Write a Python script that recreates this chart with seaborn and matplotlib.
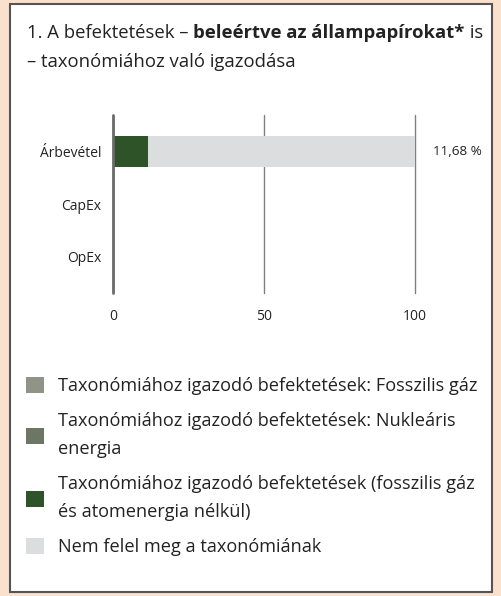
import seaborn as sns
import pandas as pd
import matplotlib.pyplot as plt
from matplotlib.patches import Rectangle, Patch

# adatok
categories = ["Árbevétel", "CapEx", "OpEx"]
fossil_gas = [0, 0, 0]
nuclear = [0, 0, 0]
aligned = [11.68, 0, 0]
not_aligned = [88.32, 0, 0]
value_labels = ["11,68 %", "", ""]
x_ticks = [0, 50, 100]

legend_labels = [
    "Taxonómiához igazodó befektetések: Fosszilis gáz",
    "Taxonómiához igazodó befektetések: Nukleáris\nenergia",
    "Taxonómiához igazodó befektetések (fosszilis gáz\nés atomenergia nélkül)",
    "Nem felel meg a taxonómiának",
]
legend_colors = ["#8f9486", "#6c7664", "#2f5328", "#dcdddf"]

df = pd.DataFrame({
    "category": categories,
    "fossil": fossil_gas,
    "nuclear": nuclear,
    "aligned": aligned,
    "not_aligned": not_aligned,
})
df["total"] = df["fossil"] + df["nuclear"] + df["aligned"] + df["not_aligned"]

sns.set_theme(style="white")
plt.rcParams["font.family"] = ["Open Sans", "DejaVu Sans"]
text_color = "#222222"

fig = plt.figure(figsize=(5.02, 5.96), dpi=100, facecolor="#fae1cd")
fig.patches.append(Rectangle((10 / 502, 4 / 596), 482 / 502, 588 / 596,
                             transform=fig.transFigure, facecolor="white",
                             edgecolor="#555555", lw=1.5, zorder=-10))

ax = fig.add_axes([113 / 502, 303 / 596, 302 / 502, 178 / 596])
ax.set_facecolor("none")

# halmozott sávok: előbb a teljes, majd a taxonómiához igazodó rész
sns.barplot(data=df, y="category", x="total", color=legend_colors[3],
            orient="h", width=0.58, saturation=1, linewidth=0, ax=ax, zorder=2)
sns.barplot(data=df, y="category", x="aligned", color=legend_colors[2],
            orient="h", width=0.58, saturation=1, linewidth=0, ax=ax, zorder=3)

ax.set_xlim(0, 100)
ax.set_ylim(2.7, -0.7)
ax.set_xticks(x_ticks)
ax.set_xlabel("")
ax.set_ylabel("")
for s in ax.spines.values():
    s.set_visible(False)
for x in x_ticks[1:]:
    ax.axvline(x, color="#808080", lw=1, zorder=1, clip_on=False)
ax.axvline(0, color="#6a6a6a", lw=2, zorder=4, clip_on=False)
ax.tick_params(axis="x", length=0, pad=11.5, labelsize=10, labelcolor=text_color)
ax.tick_params(axis="y", length=0, pad=8.5, labelsize=10, labelcolor=text_color)

for i, lab in enumerate(value_labels):
    if lab:
        ax.text(106, i, lab, va="center", ha="left", fontsize=9.7,
                color=text_color, clip_on=False)

# cím, félkövér résszel
fs_title = 13.3
t1 = fig.text(27 / 502, 1 - 38 / 596, "1. A befektetések – ", fontsize=fs_title,
              color=text_color, va="baseline")
t2 = ax.annotate("beleértve az állampapírokat*", xy=(1, 0), xycoords=t1,
                 va="bottom", fontsize=fs_title, fontweight="bold", color=text_color,
                 annotation_clip=False)
ax.annotate(" is", xy=(1, 0), xycoords=t2, va="bottom", fontsize=fs_title,
            color=text_color, annotation_clip=False)
fig.text(27 / 502, 1 - 67 / 596, "– taxonómiához való igazodása", fontsize=fs_title,
         color=text_color, va="baseline")

handles = [Patch(facecolor=c, edgecolor="none") for c in legend_colors]
leg = fig.legend(handles, legend_labels, loc="upper left",
                 bbox_to_anchor=(19 / 502, 1 - 370 / 596), frameon=False,
                 fontsize=13.1, handlelength=0.97, handleheight=0.97,
                 handletextpad=0.75, labelspacing=0.9, borderaxespad=0)
for t in leg.get_texts():
    t.set_color(text_color)
    t.set_linespacing(1.75)

fig.savefig("out.png", dpi=100, facecolor=fig.get_facecolor())
